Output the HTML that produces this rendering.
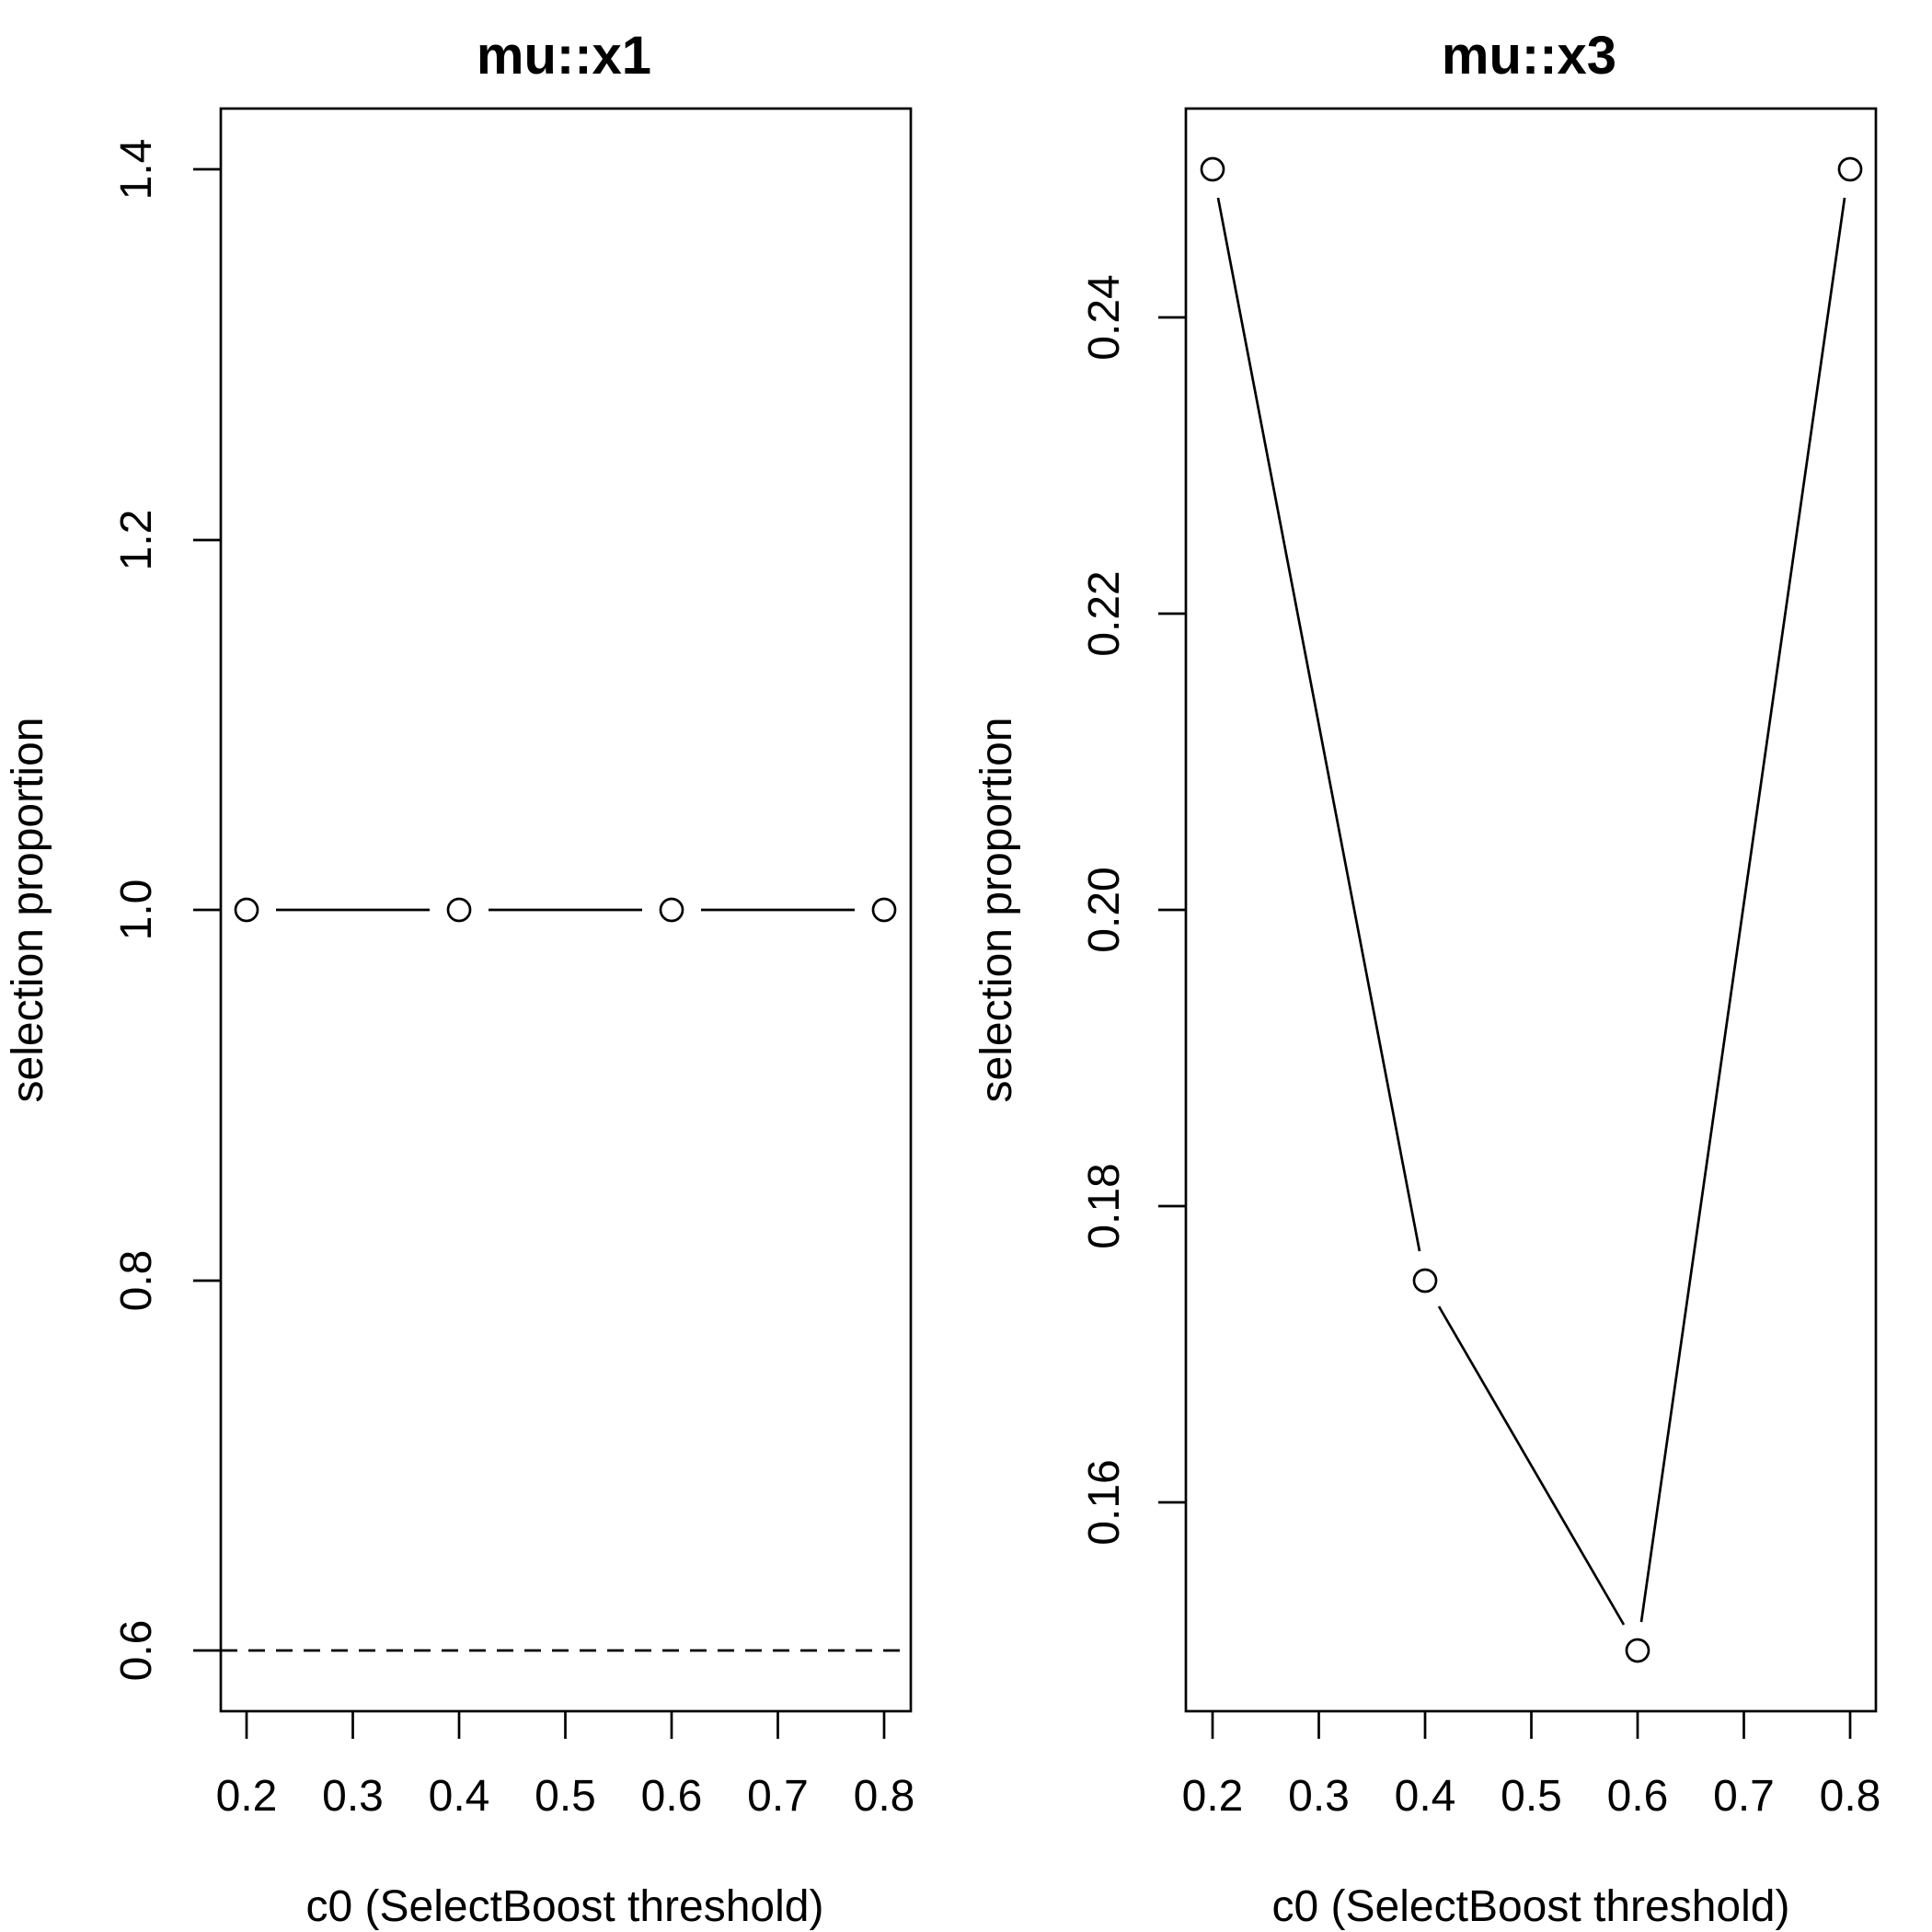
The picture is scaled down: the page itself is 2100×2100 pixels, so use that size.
<!DOCTYPE html>
<html><head><style>body{margin:0;background:#fff}svg{display:block}</style></head><body>
<svg width="2100" height="2100" viewBox="0 0 2100 2100" xmlns="http://www.w3.org/2000/svg" font-family="Liberation Sans, Arial, sans-serif">
<rect width="2100" height="2100" fill="#fff"/>
<g stroke="#000" stroke-width="2.7" fill="none">
<rect x="240" y="118" width="750" height="1742"/>
<rect x="1289" y="118" width="750" height="1742"/>
<path d="M210 184H240M210 587H240M210 989H240M210 1392H240M210 1794H240"/>
<path d="M1259 345H1289M1259 667H1289M1259 989H1289M1259 1311H1289M1259 1633H1289"/>
<path d="M268 1860V1890M383.5 1860V1890M499 1860V1890M614.5 1860V1890M730 1860V1890M845.5 1860V1890M961 1860V1890"/>
<path d="M1318 1860V1890M1433.5 1860V1890M1549 1860V1890M1664.5 1860V1890M1780 1860V1890M1895.5 1860V1890M2011 1860V1890"/>
<path d="M240 1794H990" stroke-dasharray="18 12"/>
<path d="M300 989H467M531 989H698M762 989H929"/>
<circle cx="268" cy="989" r="12"/><circle cx="499" cy="989" r="12"/><circle cx="730" cy="989" r="12"/><circle cx="961" cy="989" r="12"/>
<path d="M1324 215L1543 1360M1564 1420L1765 1766M1784 1763L2005 215"/>
<circle cx="1318" cy="184" r="12"/><circle cx="1549" cy="1392" r="12"/><circle cx="1780" cy="1794" r="12"/><circle cx="2011" cy="184" r="12"/>
</g>
<g font-size="48" text-anchor="middle" fill="#000">
<text x="613" y="80" font-size="58" font-weight="bold">mu::x1</text>
<text x="1662" y="80" font-size="58" font-weight="bold">mu::x3</text>
<g transform="translate(164 184) rotate(-90)"><text>1.4</text></g>
<g transform="translate(164 587) rotate(-90)"><text>1.2</text></g>
<g transform="translate(164 989) rotate(-90)"><text>1.0</text></g>
<g transform="translate(164 1392) rotate(-90)"><text>0.8</text></g>
<g transform="translate(164 1794) rotate(-90)"><text>0.6</text></g>
<g transform="translate(1216 345) rotate(-90)"><text>0.24</text></g>
<g transform="translate(1216 667) rotate(-90)"><text>0.22</text></g>
<g transform="translate(1216 989) rotate(-90)"><text>0.20</text></g>
<g transform="translate(1216 1311) rotate(-90)"><text>0.18</text></g>
<g transform="translate(1216 1633) rotate(-90)"><text>0.16</text></g>
<g transform="translate(46 989) rotate(-90)"><text>selection proportion</text></g>
<g transform="translate(1099 989) rotate(-90)"><text>selection proportion</text></g>
<text x="268" y="1968">0.2</text><text x="383.5" y="1968">0.3</text><text x="499" y="1968">0.4</text><text x="614.5" y="1968">0.5</text><text x="730" y="1968">0.6</text><text x="845.5" y="1968">0.7</text><text x="961" y="1968">0.8</text>
<text x="1318" y="1968">0.2</text><text x="1433.5" y="1968">0.3</text><text x="1549" y="1968">0.4</text><text x="1664.5" y="1968">0.5</text><text x="1780" y="1968">0.6</text><text x="1895.5" y="1968">0.7</text><text x="2011" y="1968">0.8</text>
<text x="614" y="2088">c0 (SelectBoost threshold)</text>
<text x="1664" y="2088">c0 (SelectBoost threshold)</text>
</g>
</svg>
</body></html>
